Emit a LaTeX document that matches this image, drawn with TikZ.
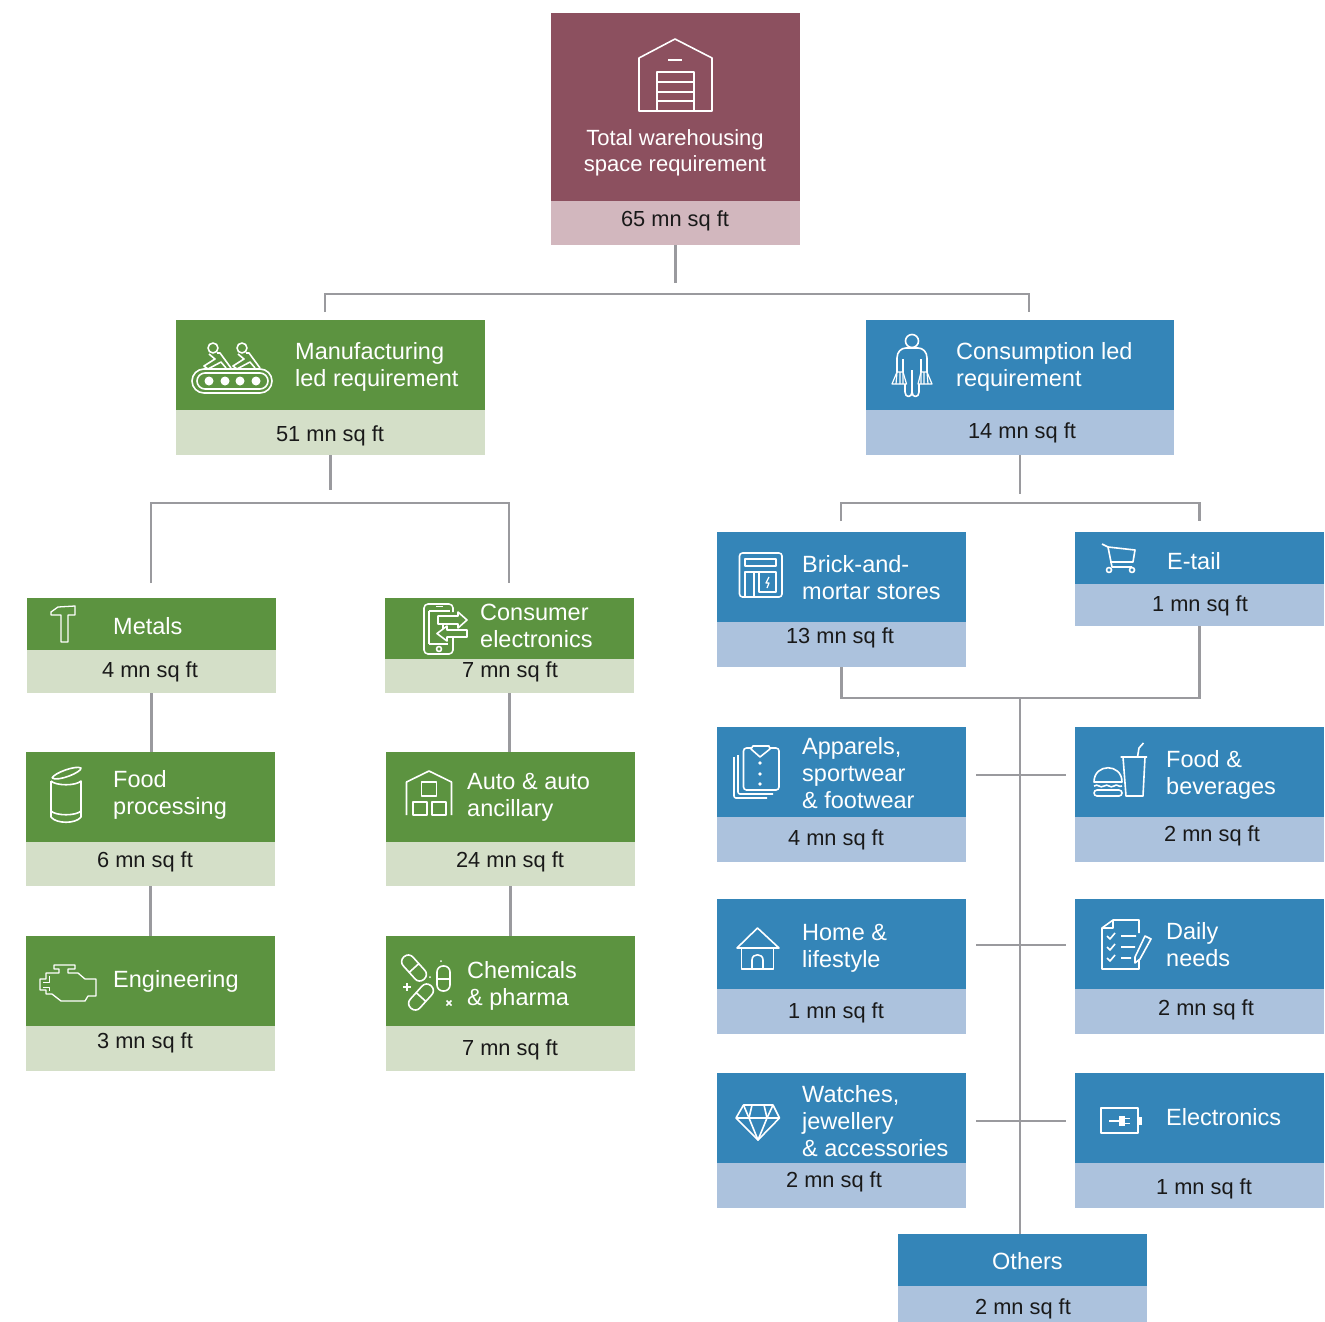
\documentclass[tikz,border=0pt]{standalone}
\usepackage{fontspec}
\setmainfont{Liberation Sans}
\usetikzlibrary{positioning}
\definecolor{maroonhead}{HTML}{8C505F}
\definecolor{maroonval}{HTML}{D2B7BE}
\definecolor{greenhead}{HTML}{5C9340}
\definecolor{greenval}{HTML}{D4DFC8}
\definecolor{bluehead}{HTML}{3485B8}
\definecolor{blueval}{HTML}{ACC2DD}
\definecolor{connline}{HTML}{9A9A9E}
\begin{document}
\begin{tikzpicture}[x=1pt,y=-1pt,
	card/.style={rectangle, inner sep=0pt, outer sep=0pt, minimum width=249pt},
	maroon/.style={card, fill=maroonhead, minimum height=#1},
	maroonnum/.style={card, fill=maroonval, minimum height=#1},
	green/.style={card, fill=greenhead, minimum height=#1, anchor=north west},
	greennum/.style={card, fill=greenval, minimum height=#1},
	blue/.style={card, fill=bluehead, minimum height=#1, anchor=north west},
	bluenum/.style={card, fill=blueval, minimum height=#1},
	title/.style={text=white, inner sep=0pt, align=left, anchor=west, font=\fontsize{23.5}{27}\selectfont},
	value/.style={text=black!90, inner sep=0pt, text height=15.5pt, text depth=1.5pt, font=\fontsize{21.8}{26}\selectfont},
	conn/.style={draw=connline, line width=2.8pt},
	icon/.style={draw=white, line width=1.6pt, line join=round, fill=none}]
	\useasboundingbox (0,0) rectangle (1325,1322);

	\node[maroon=188, anchor=north west] (total) at (551,13) {};
	\node[maroonnum=44, below=0pt of total] (totalval) {};
	\node[text=white, inner sep=0pt, align=center, font=\fontsize{22}{26}\selectfont] (totaltext) at (675,153) {Total warehousing\\space requirement};
	\node[value] (totalnum) at (675,219) {65 mn sq ft};

	\node[green=90, minimum width=309pt] (manuf) at (176,320) {};
	\node[greennum=45, minimum width=309pt, below=0pt of manuf] (manufval) {};
	\node[title] (manuftext) at (295,367) {Manufacturing\\led requirement};
	\node[value] (manufnum) at (330,434) {51 mn sq ft};

	\node[blue=90, minimum width=308pt] (cons) at (866,320) {};
	\node[bluenum=45, minimum width=308pt, below=0pt of cons] (consval) {};
	\node[title] (constext) at (956,367) {Consumption led\\requirement};
	\node[value] (consnum) at (1022,431) {14 mn sq ft};

	\node[green=52] (metals) at (27,598) {};
	\node[greennum=43, below=0pt of metals] (metalsval) {};
	\node[title] (metalstext) at (113,626) {Metals};
	\node[value] (metalsnum) at (150,670) {4 mn sq ft};

	\node[green=61] (consumer) at (385,598) {};
	\node[greennum=34, below=0pt of consumer] (consumerval) {};
	\node[title] (consumertext) at (480,626) {Consumer\\electronics};
	\node[value] (consumernum) at (510,670) {7 mn sq ft};

	\node[green=90] (food) at (26,752) {};
	\node[greennum=44, below=0pt of food] (foodval) {};
	\node[title] (foodtext) at (113,795) {Food\\processing};
	\node[value] (foodnum) at (145,860) {6 mn sq ft};

	\node[green=90] (auto) at (386,752) {};
	\node[greennum=44, below=0pt of auto] (autoval) {};
	\node[title] (autotext) at (467,797) {Auto \& auto\\ancillary};
	\node[value] (autonum) at (510,860) {24 mn sq ft};

	\node[green=90] (eng) at (26,936) {};
	\node[greennum=45, below=0pt of eng] (engval) {};
	\node[title] (engtext) at (113,981) {Engineering};
	\node[value] (engnum) at (145,1041) {3 mn sq ft};

	\node[green=90] (chem) at (386,936) {};
	\node[greennum=45, below=0pt of chem] (chemval) {};
	\node[title] (chemtext) at (467,986) {Chemicals\\\& pharma};
	\node[value] (chemnum) at (510,1048) {7 mn sq ft};

	\node[blue=90] (brick) at (717,532) {};
	\node[bluenum=45, below=0pt of brick] (brickval) {};
	\node[title] (bricktext) at (802,577.5) {Brick-and-\\mortar stores};
	\node[value] (bricknum) at (840,636) {13 mn sq ft};

	\node[blue=52] (etail) at (1075,532) {};
	\node[bluenum=42, below=0pt of etail] (etailval) {};
	\node[title] (etailtext) at (1167,561) {E-tail};
	\node[value] (etailnum) at (1200,604) {1 mn sq ft};

	\node[blue=90] (apparel) at (717,727) {};
	\node[bluenum=45, below=0pt of apparel] (apparelval) {};
	\node[title] (appareltext) at (802,773) {Apparels,\\sportwear\\\& footwear};
	\node[value] (apparelnum) at (836,838) {4 mn sq ft};

	\node[blue=90] (bev) at (1075,727) {};
	\node[bluenum=45, below=0pt of bev] (bevval) {};
	\node[title] (bevtext) at (1166,775) {Food \&\\beverages};
	\node[value] (bevnum) at (1212,834) {2 mn sq ft};

	\node[blue=90] (home) at (717,899) {};
	\node[bluenum=45, below=0pt of home] (homeval) {};
	\node[title] (hometext) at (802,948) {Home \&\\lifestyle};
	\node[value] (homenum) at (836,1011) {1 mn sq ft};

	\node[blue=90] (daily) at (1075,899) {};
	\node[bluenum=45, below=0pt of daily] (dailyval) {};
	\node[title] (dailytext) at (1166,944.5) {Daily\\needs};
	\node[value] (dailynum) at (1206,1008) {2 mn sq ft};

	\node[blue=90] (watch) at (717,1073) {};
	\node[bluenum=45, below=0pt of watch] (watchval) {};
	\node[title] (watchtext) at (802,1121) {Watches,\\jewellery\\\& accessories};
	\node[value] (watchnum) at (834,1180) {2 mn sq ft};

	\node[blue=90] (elec) at (1075,1073) {};
	\node[bluenum=45, below=0pt of elec] (elecval) {};
	\node[title] (electext) at (1166,1117) {Electronics};
	\node[value] (elecnum) at (1204,1187) {1 mn sq ft};

	\node[blue=52] (others) at (898,1234) {};
	\node[bluenum=36, below=0pt of others] (othersval) {};
	\node[title] (otherstext) at (992,1261) {Others};
	\node[value] (othersnum) at (1023,1307) {2 mn sq ft};

	\coordinate (topstub) at (675.5,283);
	\coordinate (topbus) at (675.5,294);
	\coordinate (topleft) at (325,312);
	\coordinate (topright) at (1029,312);
	\draw[conn] (totalval.south) -- (topstub);
	\draw[conn] (topleft) |- (topbus) -| (topright);

	\coordinate (manufstub) at (330.5,490);
	\coordinate (manufbus) at (330.5,503);
	\coordinate (manufleft) at (151,583);
	\coordinate (manufright) at (509,583);
	\draw[conn] (manufval.south) -- (manufstub);
	\draw[conn] (manufleft) |- (manufbus) -| (manufright);

	\draw[conn] (metalsval.south) -- (metalsval.south |- food.north);
	\draw[conn] (foodval.south) -- (foodval.south |- eng.north);
	\draw[conn] (consumerval.south) -- (consumerval.south |- auto.north);
	\draw[conn] (autoval.south) -- (autoval.south |- chem.north);

	\coordinate (consstub) at (1020,494);
	\coordinate (consbus) at (1020,503);
	\coordinate (consleft) at (841,521);
	\coordinate (consright) at (1199.5,521);
	\draw[conn] (consval.south) -- (consstub);
	\draw[conn] (consleft) |- (consbus) -| (consright);

	\coordinate (trunk) at (1020,698);
	\draw[conn] (brickval.south) |- (trunk) -| (etailval.south);
	\draw[conn] (trunk) -- (trunk |- others.north);

	\coordinate (apparelstub) at (976,775);
	\coordinate (bevstub) at (1066,775);
	\coordinate (homestub) at (976,945);
	\coordinate (dailystub) at (1066,945);
	\coordinate (watchstub) at (976,1121);
	\coordinate (elecstub) at (1066,1121);
	\draw[conn] (apparelstub) -- (bevstub);
	\draw[conn] (homestub) -- (dailystub);
	\draw[conn] (watchstub) -- (elecstub);

	\draw[icon] (639,111) -- (639,58) -- (675,39) -- (712,58) -- (712,111) -- cycle;
	\draw[icon] (668,60) -- (682,60);
	\draw[icon] (657,111) -- (657,72) -- (694,72) -- (694,111);
	\draw[icon] (657,82) -- (694,82) (657,92) -- (694,92) (657,101) -- (694,101);

	\draw[icon, rounded corners=12pt] (192,369) rectangle (272,393);
	\draw[icon, rounded corners=8pt] (197,373) rectangle (268,389);
	\fill[white] (209,381) circle (4.5) (225,381) circle (4.5) (240,381) circle (4.5) (256,381) circle (4.5);
	\draw[icon] (213,348) circle (5) (242,348) circle (5);
	\draw[icon] (209,354) -- (215,359) -- (204,366) -- (208,369) -- (221,362) -- (226,368) (217,353) -- (220,353) -- (231,368);
	\draw[icon] (238,354) -- (244,359) -- (233,366) -- (237,369) -- (250,362) -- (255,368) (246,353) -- (249,353) -- (260,368);

	\draw[icon, line width=1.3pt] (61,615) -- (51,615) -- (51,612) -- (58,607) -- (75,606) -- (75,615) -- (68,615) -- (68,642) -- (61,642) -- cycle;

	\draw[icon, rounded corners=4pt] (453,612) -- (453,604) -- (424,604) -- (424,654) -- (453,654) -- (453,638);
	\draw[icon] (429,611) -- (450,611) (429,644) -- (448,644) (429,611) -- (429,644);
	\draw[icon] (436,606.5) -- (443,606.5);
	\draw[icon] (439,649) circle (2.5);
	\draw[icon] (438,616) -- (458,616) -- (458,612) -- (467,620) -- (458,628) -- (458,624) -- (438,624) -- cycle;
	\draw[icon] (467,630) -- (447,630) -- (447,626) -- (437,633.5) -- (447,641) -- (447,637) -- (467,637) -- cycle;
	\draw[icon] (443,625) -- (443,629);

	\draw[icon] (51,781) -- (51,817) .. controls (56,824) and (76,824) .. (81,817) -- (81,781) .. controls (76,786) and (56,786) .. (51,781);
	\draw[icon] (51,811) .. controls (56,816) and (76,816) .. (81,811);
	\draw[icon] (52,778) .. controls (54,773) and (76,765) .. (81,768) .. controls (82,772) and (58,782) .. (52,778);

	\draw[icon] (406.5,815) -- (406.5,782) -- (429,771) -- (451.5,782) -- (451.5,815);
	\draw[icon] (421.5,782) rectangle (436.5,796);
	\draw[icon] (413,802) rectangle (427,815) (432,802) rectangle (446,815);

	\draw[icon, line width=1.3pt] (40,979) -- (46,979) -- (46,973) -- (59,973) -- (59,969) -- (54,969) -- (54,965) -- (75,965) -- (75,969) -- (68,969) -- (68,973) -- (78,973) -- (85,979) -- (96,979) -- (96,996) -- (88,996) -- (85,1001) -- (61,1001) -- (52,994) -- (46,994) -- (46,990) -- (40,990) -- cycle;
	\draw[icon, line width=1pt] (43,982) -- (49,982) -- (49,976) (43,987) -- (49,987) -- (49,991);

	\draw[icon, shift={(414,968)}, rotate=-48, rounded corners=6pt] (-15,-6.5) rectangle (15,6.5) (0,-6.5) -- (0,6.5);
	\draw[icon, shift={(421,997)}, rotate=48, rounded corners=6pt] (-15,-6.5) rectangle (15,6.5) (0,-6.5) -- (0,6.5);
	\draw[icon, rounded corners=6pt] (437,966) rectangle (450,991);
	\draw[icon] (437,979) -- (450,979);
	\draw[icon] (403,987) -- (411,987) (407,983) -- (407,991);
	\draw[icon] (446.5,1000.5) -- (451.5,1005.5) (446.5,1005.5) -- (451.5,1000.5);
	\fill[white] (430,977) circle (1) (441,961) circle (1);

	\draw[icon] (912,341) circle (6.5);
	\draw[icon] (903,372) -- (903,359) (921,372) -- (921,359);
	\draw[icon] (897,372) -- (897,358) .. controls (897,352) and (901,348) .. (906,348) -- (918,348) .. controls (923,348) and (927,352) .. (927,358) -- (927,372);
	\draw[icon, line width=1.2pt] (897,372) -- (903,372) -- (906.5,384) -- (892,384) -- cycle;
	\draw[icon, line width=1.2pt] (921,372) -- (927,372) -- (932,384) -- (918,384) -- cycle;
	\draw[icon, line width=1.2pt] (897,372) -- (896,384) (900,372) -- (900,384) (903,372) -- (903,384) (921,372) -- (921,384) (924,372) -- (924,384) (927,372) -- (928,384);
	\draw[icon] (905,384) -- (905,392) .. controls (905,398) and (912,398) .. (912,392) -- (912,370);
	\draw[icon] (912,392) .. controls (912,398) and (919,398) .. (919,392) -- (919,384);

	\draw[icon, rounded corners=3pt] (739.5,553) rectangle (782,597);
	\draw[icon] (745,559) rectangle (776,566);
	\draw[icon] (745,597) -- (745,572) -- (776,572) -- (776,592) -- (759,592) -- (759,572) (754,572) -- (754,597);
	\draw[icon, line width=1.2pt] (769,577) -- (766,583) -- (769,583) -- (767,588);

	\draw[icon] (1102,544) -- (1108,547) -- (1112,567) -- (1132,567);
	\draw[icon] (1108,547) -- (1135,550) -- (1133,562) -- (1110,562);
	\draw[icon] (1109,570) circle (2.5) (1132,570) circle (2.5);

	\draw[icon, rounded corners=2pt] (734,757) -- (734,798) -- (767,798) (738,755) -- (738,794) -- (773,794);
	\draw[icon, rounded corners=3pt] (751,748) -- (743.5,748) -- (743.5,790) -- (779,790) -- (779,748) -- (770,748);
	\draw[icon] (753,746) -- (769,746) -- (770,749) -- (760,757) -- (751,749) -- cycle;
	\fill[white] (760,763) circle (1.8) (760,774) circle (1.8) (760,784) circle (1.8);

	\draw[icon] (1120.5,757) -- (1147,757) (1123,757) -- (1126,796) -- (1143,796) -- (1145,757);
	\draw[icon] (1137.5,757) -- (1139,748) -- (1143.5,743);
	\draw[icon] (1094,782) .. controls (1094,763) and (1122,763) .. (1122,782) -- cycle;
	\draw[icon] (1094,786) .. controls (1098,783) and (1100,789) .. (1104,786) .. controls (1108,783) and (1110,789) .. (1114,786) .. controls (1117,783) and (1119,788) .. (1122,786);
	\draw[icon, rounded corners=3pt] (1094,790) -- (1122,790) -- (1122,796) -- (1094,796) -- cycle;

	\draw[icon] (737,948) -- (757.5,928) -- (779,948) -- cycle;
	\draw[icon] (741.5,948) -- (741.5,969) -- (773.5,969) -- (773.5,948);
	\draw[icon] (752,969) -- (752,960) .. controls (752,953) and (763,953) .. (763,960) -- (763,969);

	\draw[icon] (1139,933) -- (1139,920) -- (1113,920) -- (1102,928) -- (1102,969) -- (1139,969) -- (1139,960);
	\draw[icon] (1113,920) -- (1113,928) -- (1102,928);
	\draw[icon] (1107,936) -- (1110,939) -- (1115,933) (1121,936) -- (1136,936);
	\draw[icon] (1107,947) -- (1110,950) -- (1115,944) (1121,947) -- (1135,947);
	\draw[icon] (1107,958) -- (1110,961) -- (1115,955) (1121,958) -- (1131,958);
	\draw[icon] (1145,936) -- (1151,939) -- (1140,959) -- (1135,963) -- (1135,957) -- cycle;

	\draw[icon] (736,1118) -- (743.5,1105) -- (773,1105) -- (779.5,1118) -- (758,1140) -- cycle;
	\draw[icon] (736,1118) -- (779.5,1118);
	\draw[icon] (752,1105) -- (749,1118) -- (758,1140) -- (767,1118) -- (764,1105);
	\draw[icon] (743.5,1105) -- (749,1118) (773,1105) -- (767,1118);

	\draw[icon, line width=2pt] (1101,1108) rectangle (1137.5,1133);
	\fill[white] (1137.5,1117) rectangle (1142,1125);
	\draw[icon, line width=2.4pt] (1109,1121) -- (1120,1121);
	\fill[white] (1119,1116) rectangle (1125,1126);
	\draw[icon, line width=1.2pt] (1125,1118.5) -- (1130,1118.5) (1125,1123.5) -- (1130,1123.5);
\end{tikzpicture}
\end{document}
